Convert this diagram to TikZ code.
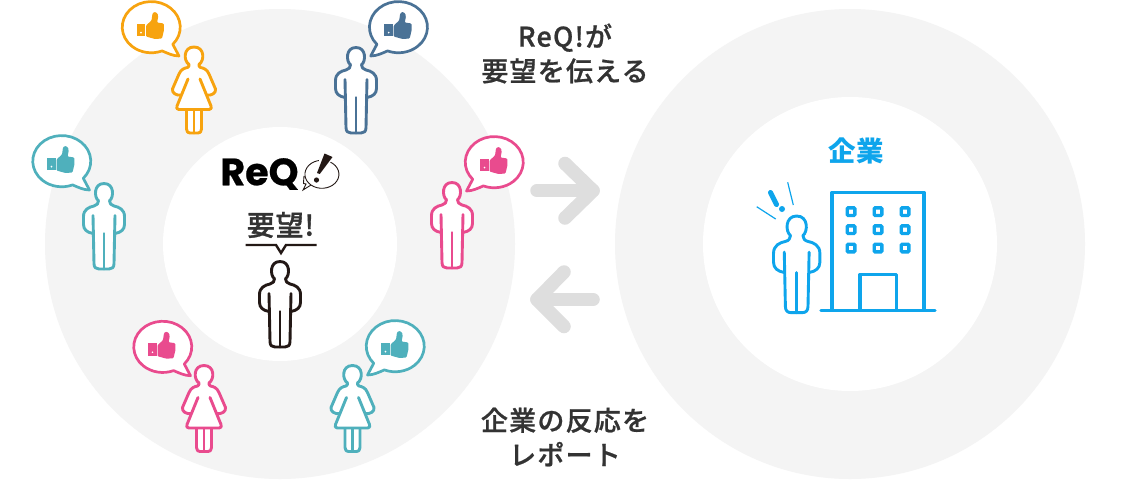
\documentclass[tikz,border=0pt]{standalone}
\usepackage{fontspec}
\setmainfont{Noto Sans CJK JP}
\newfontfamily\capfont{Noto Sans CJK JP Medium}[LetterSpace=4.5,FakeBold=0.8]
\newfontfamily\wishfont{Noto Sans CJK JP Medium}[LetterSpace=3,FakeBold=1.2]
\newfontfamily\logofont{Poppins}[FakeBold=0.6]
\definecolor{cOrange}{HTML}{F7A30F}
\definecolor{cBlue}{HTML}{4A7296}
\definecolor{cPink}{HTML}{E94B8E}
\definecolor{cTeal}{HTML}{4FB0BC}
\definecolor{cBlack}{HTML}{231815}
\definecolor{cSky}{HTML}{0EA5EC}
\definecolor{cRing}{HTML}{F4F4F4}
\definecolor{cArrow}{HTML}{DEDEDE}
\definecolor{cText}{HTML}{333333}
\tikzset{
  icon/.style={line width=2.9pt,line join=round,line cap=round,fill=white},
  bigarrow/.style={draw=cArrow,line width=13.5pt,line cap=round,line join=round},
  caption/.style={font=\capfont\fontsize{27}{34.5}\selectfont,text=cText,align=center,inner sep=0pt},
}
% #1 x, #2 top y, #3 scale, #4 colour
\newcommand{\manicon}[4]{%
  \begin{scope}[shift={(#1,#2)},scale=#3,icon/.append style={draw=#4}]
    \path[icon] (-11,50) .. controls (-17,49) and (-20.5,46) .. (-20.5,41)
      -- (-20.5,33) .. controls (-20.5,26) and (-15,23.5) .. (-10,22.5)
      .. controls (-7,22) and (-5.5,19.5) .. (-5.5,17.3)
      .. controls (-10,14) and (-10.5,0) .. (0,0)
      .. controls (10.5,0) and (10,14) .. (5.5,17.3)
      .. controls (5.5,19.5) and (7,22) .. (10,22.5)
      .. controls (15,23.5) and (20.5,26) .. (20.5,33)
      -- (20.5,41) .. controls (20.5,46) and (17,49) .. (11,50);
    \path[icon] (-11,32) -- (-10,80) .. controls (-10,84) and (-8,85.5) .. (-5,85.5)
      -- (5,85.5) .. controls (8,85.5) and (10,84) .. (10,80) -- (11,32);
    \draw[icon,fill=none] (0,50) -- (0,85.5);
  \end{scope}}
\newcommand{\womanicon}[3]{%
  \begin{scope}[shift={(#1,#2)},icon/.append style={draw=#3}]
    \path[icon] (-13,48) .. controls (-17,49) and (-22.5,46) .. (-21.5,42) -- (-15,27)
      .. controls (-13,22) and (-9,21) .. (-6.5,20.5)
      .. controls (-5,20) and (-5,18.5) .. (-5,17.5)
      .. controls (-10.5,14) and (-11,0) .. (0,0)
      .. controls (11,0) and (10.5,14) .. (5,17.5)
      .. controls (5,18.5) and (5,20) .. (6.5,20.5)
      .. controls (9,21) and (13,22) .. (15,27) -- (21.5,42)
      .. controls (22.5,46) and (17,49) .. (13,48);
    \path[icon] (-7.5,62) -- (-7.5,82) .. controls (-7.5,85) and (-6,86) .. (-4,86)
      -- (4,86) .. controls (6,86) and (7.5,85) .. (7.5,82) -- (7.5,62);
    \draw[icon,fill=none] (0,62) -- (0,86);
    \path[icon] (-6,32) -- (-17,59) .. controls (-18,61) and (-17,62.5) .. (-15,62.5)
      -- (15,62.5) .. controls (17,62.5) and (18,61) .. (17,59) -- (6,32);
  \end{scope}}
% #1 x, #2 y centre, #3 side of tail (+1/-1), #4 colour
\newcommand{\likebubble}[4]{%
  \begin{scope}[shift={(#1,#2)}]
    \begin{scope}[xscale=#3]
      \draw[line width=2.7pt,line join=round,draw=#4,fill=white]
        (21.8,17.3) arc[x radius=29,y radius=25.6,start angle=42,end angle=-292]
        .. controls (16,26) and (22,29) .. (28,29) -- cycle;
    \end{scope}
    \fill[#4] (-14.3,-3.5) rectangle (-6,9.3);
    \fill[white] (-10,5.6) circle (0.9);
    \fill[#4,rounded corners=1pt] (-5,-1.5) -- (0.5,-6.5) -- (1.5,-13.5) .. controls (4,-16) and (7.5,-14) .. (7,-9)
      -- (6,-4.5) -- (12.8,-3.5) -- (13,3) -- (11,11.5) -- (4,12) -- (-5,9.5) -- cycle;
  \end{scope}}
\begin{document}
\begin{tikzpicture}[x=1pt,y=1pt,yscale=-1]
\useasboundingbox (0,0) rectangle (1130,480);
\fill[white] (0,0) rectangle (1130,480);
% rings
\fill[cRing] (280,244) circle (235);
\fill[white] (280,244) circle (117);
\fill[cRing] (850,244) circle (235);
\fill[white] (850,244) circle (147);
% arrows
\coordinate (a1s) at (537,190.7); \coordinate (a1t) at (593,190.7);
\coordinate (a2s) at (593,299.5); \coordinate (a2t) at (537,299.5);
\draw[bigarrow] (a1s) -- (a1t);
\draw[bigarrow] (565,163.5) -- (a1t) -- (565,218);
\draw[bigarrow] (a2s) -- (a2t);
\draw[bigarrow] (564,272) -- (a2t) -- (564,326.5);
% captions
\node[caption] (top) at (565,53.5) {ReQ!が\\要望を伝える};
\node[caption] (bottom) at (565,437) {企業の反応を\\レポート};
% people
\likebubble{151}{27}{1}{cOrange}
\womanicon{194}{47}{cOrange}
\likebubble{398.7}{27}{-1}{cBlue}
\manicon{356}{47.5}{1}{cBlue}
\likebubble{494.5}{162}{-1}{cPink}
\manicon{452}{182.5}{1}{cPink}
\likebubble{61.5}{161}{1}{cTeal}
\manicon{104}{183.5}{1}{cTeal}
\likebubble{162.5}{346.7}{1}{cPink}
\womanicon{204}{365.5}{cPink}
\likebubble{395.5}{346}{-1}{cTeal}
\womanicon{352.5}{365.5}{cTeal}
% centre
\node[inner sep=0pt,font=\logofont\bfseries\fontsize{38}{38}\selectfont,text=black,anchor=center] (logo) at (259.5,174) {ReQ};
\draw[line width=0.9pt,cBlack] (311,185) arc[x radius=17,y radius=14,start angle=130,end angle=490]
  -- (303,190) -- (306,184) -- (303.5,183.5) .. controls (303.5,180) and (304,178) .. (304,176);
\fill[white] (322,151) -- (335,156) -- (320,176) -- (315,174) -- cycle;
\fill[cBlack] (324.5,153.5) -- (332.5,157) -- (319.8,174) -- (317,173) -- cycle;
\fill[cBlack] (316.5,180) circle (2.6);
\node[inner sep=0pt,font=\wishfont\fontsize{28}{28}\selectfont,text=cText] (req) at (280.5,225) {要望!};
\draw[line width=2.4pt,cBlack,line join=miter] (245.5,245) -- (276,245) -- (281,253) -- (286,245) -- (316.5,245);
\manicon{280}{261.5}{1}{cBlack}
% company
\node[inner sep=0pt,font=\fontsize{27.5}{27.5}\selectfont\bfseries,text=cSky] (firm) at (856,151) {企業};
\draw[line width=3.4pt,cSky,line join=round,line cap=round] (821,310.5) -- (935,310.5);
\draw[line width=3.4pt,cSky,line join=round] (832,310.5) -- (832,192.5) -- (924,192.5) -- (924,310.5);
\draw[line width=3.4pt,cSky,line join=round] (860,310.5) -- (860,274.5) -- (896.5,274.5) -- (896.5,310.5);
\foreach \wx in {851,878,905}
  \foreach \wy in {211.7,229.7,248}
    \draw[line width=3.4pt,cSky,rounded corners=1pt] (\wx-3.8,\wy-3.8) rectangle (\wx+3.8,\wy+3.8);
\manicon{796.7}{216}{1.13}{cSky}
\draw[line width=5pt,cSky,line cap=round] (770.5,192.5) -- (776.5,204.5);
\fill[cSky] (782,209) circle (3);
\draw[line width=1.2pt,cSky] (756.7,206.7) -- (775.7,219);
\draw[line width=1.2pt,cSky] (787.7,182.3) -- (793.3,205);
\end{tikzpicture}
\end{document}
